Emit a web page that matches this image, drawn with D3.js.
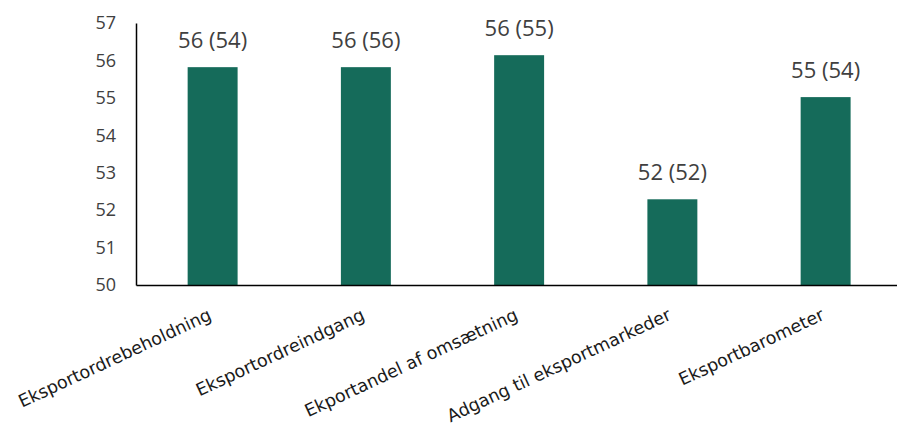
<!DOCTYPE html>
<html lang="da">
  <head>
    <meta charset="UTF-8" />
    <title>Eksport</title>
    <style>
      body { margin: 0; background: #fff; }
      .tick text { fill: #404040; }
    </style>
  </head>
  <body>
    <script src="https://d3js.org/d3.v7.min.js"></script>
    <script>
      const categories = [
        'Eksportordrebeholdning',
        'Eksportordreindgang',
        'Ekportandel af omsætning',
        'Adgang til eksportmarkeder',
        'Eksportbarometer',
      ];
      const values = [55.82, 55.82, 56.14, 52.29, 55.02];
      const valueLabels = ['56 (54)', '56 (56)', '56 (55)', '52 (52)', '55 (54)'];
      const yTicks = [50, 51, 52, 53, 54, 55, 56, 57];

      const width = 897;
      const height = 428;
      const margin = { left: 136, top: 23, bottom: 285 };

      const svg = d3.select('body').append('svg').attr('width', width).attr('height', height);

      const x = d3
        .scaleBand()
        .domain(categories)
        .range([margin.left, margin.left + 5 * 153.25])
        .paddingInner(0.674)
        .paddingOuter(0.337);

      const y = d3.scaleLinear().domain([50, 57]).range([margin.bottom, margin.top]);

      // bars
      svg
        .append('g')
        .selectAll('rect')
        .data(categories)
        .join('rect')
        .attr('x', (d) => x(d))
        .attr('y', (d, i) => y(values[i]))
        .attr('width', x.bandwidth())
        .attr('height', (d, i) => y(50) - y(values[i]))
        .attr('fill', '#156b5a');

      // value labels
      svg
        .append('g')
        .selectAll('text')
        .data(categories)
        .join('text')
        .attr('x', (d) => x(d) + x.bandwidth() / 2)
        .attr('y', (d, i) => y(values[i]) - 19)
        .attr('text-anchor', 'middle')
        .attr('font-family', 'Open Sans')
        .attr('font-size', 22)
        .attr('fill', '#404040')
        .text((d, i) => valueLabels[i]);

      // y axis
      svg
        .append('g')
        .attr('transform', `translate(${margin.left}, 0)`)
        .call(d3.axisLeft(y).tickValues(yTicks).tickSize(0).tickPadding(20).tickFormat(d3.format('d')))
        .call((g) => g.select('.domain').attr('stroke', '#000').attr('stroke-width', 1.5))
        .call((g) => g.selectAll('text').attr('font-family', 'Open Sans').attr('font-size', 18));

      // x axis
      svg
        .append('g')
        .attr('transform', `translate(0, ${margin.bottom})`)
        .call(d3.axisBottom(x).tickSize(0).tickSizeOuter(0).tickFormat(''))
        .call((g) => g.select('.domain').attr('stroke', '#000').attr('stroke-width', 1.5));

      // rotated category labels
      svg
        .append('g')
        .selectAll('text')
        .data(categories)
        .join('text')
        .attr('transform', (d) => `translate(${x(d) + x.bandwidth() / 2}, ${margin.bottom + 34}) rotate(-25)`)
        .attr('text-anchor', 'end')
        .attr('font-family', 'DejaVu Sans')
        .attr('font-size', 17.5)
        .attr('fill', '#1a1a1a')
        .text((d) => d);
    </script>
  </body>
</html>
